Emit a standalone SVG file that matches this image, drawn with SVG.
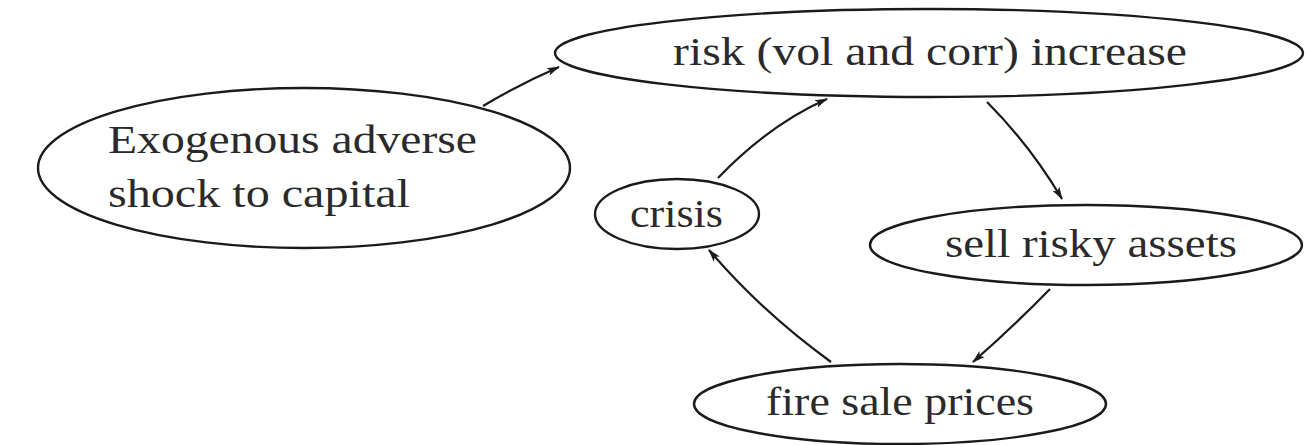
<svg xmlns="http://www.w3.org/2000/svg" width="1305" height="445" viewBox="0 0 1305 445">
<style>
.n ellipse{fill:#fff;stroke:#1a1a1a;stroke-width:2.4}
.n text{font-family:"Liberation Serif","DejaVu Serif",serif;font-size:40px;fill:#2a2a2a}
.c path{fill:none;stroke:#1a1a1a;stroke-width:2.2}
</style>
<defs>
<marker id="ah" viewBox="0 0 13 10" refX="12" refY="5" markerWidth="13" markerHeight="10" markerUnits="userSpaceOnUse" orient="auto">
<path d="M0,1 L13,5 L0,9 L3,5 Z" fill="#1a1a1a"/>
</marker>
</defs>
<rect width="1305" height="445" fill="#fff"/>
<g id="n-risk" class="n">
<ellipse cx="929" cy="53" rx="374" ry="44"/>
<text x="673" y="65" textLength="514" lengthAdjust="spacingAndGlyphs">risk (vol and corr) increase</text>
</g>
<g id="n-shock" class="n">
<ellipse cx="304" cy="168" rx="266" ry="80"/>
<text x="108" y="153" textLength="369" lengthAdjust="spacingAndGlyphs">Exogenous  adverse</text>
<text x="108" y="207" textLength="302" lengthAdjust="spacingAndGlyphs">shock to capital</text>
</g>
<g id="n-crisis" class="n">
<ellipse cx="677" cy="214" rx="82" ry="35"/>
<text x="630" y="227" textLength="93" lengthAdjust="spacingAndGlyphs">crisis</text>
</g>
<g id="n-sell" class="n">
<ellipse cx="1086" cy="245" rx="216" ry="40"/>
<text x="945" y="257" textLength="292" lengthAdjust="spacingAndGlyphs">sell risky assets</text>
</g>
<g id="n-fire" class="n">
<ellipse cx="900" cy="404" rx="206" ry="40"/>
<text x="766" y="415" textLength="268" lengthAdjust="spacingAndGlyphs">fire sale prices</text>
</g>
<g id="connectors" class="c">
<path d="M483,106 Q520,84 559,67" marker-end="url(#ah)"/>
<path d="M718,178 Q770,124 827,99" marker-end="url(#ah)"/>
<path d="M987,102 Q1030,145 1062,199" marker-end="url(#ah)"/>
<path d="M1050,289 Q1015,325 973,362" marker-end="url(#ah)"/>
<path d="M831,362 Q762,312 709,250" marker-end="url(#ah)"/>
</g>
</svg>
